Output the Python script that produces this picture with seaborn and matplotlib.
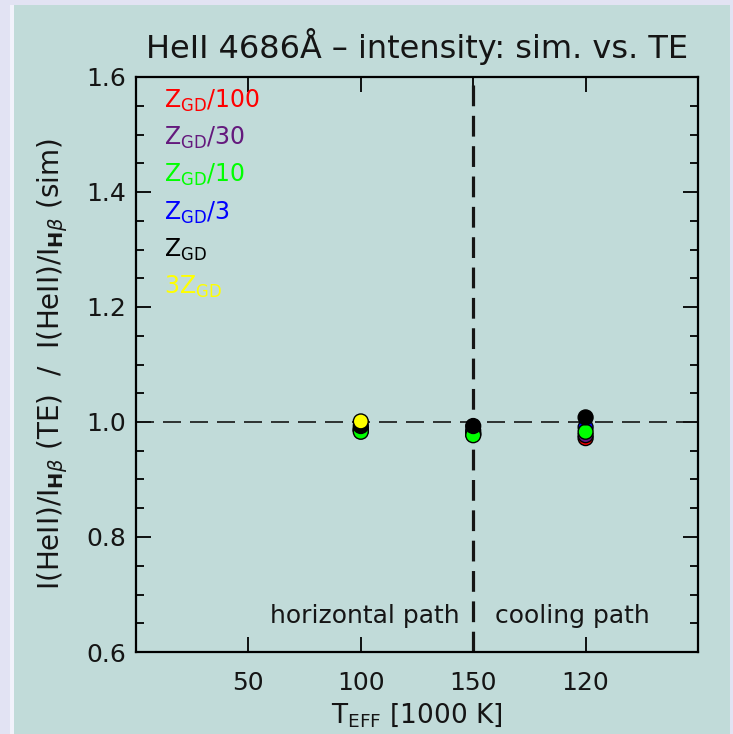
import numpy as np
import pandas as pd
import matplotlib
matplotlib.use("Agg")
import matplotlib.pyplot as plt
import seaborn as sns
from matplotlib.ticker import MultipleLocator, FixedLocator, FormatStrFormatter
from matplotlib.patches import Rectangle

# Axis categories: effective temperature labels along the path
tick_labels = ["50", "100", "150", "120"]
teff_points = ["100", "150", "120"]

# Model metallicities and their colours
models = [r"Z$_{\rm GD}$/100", r"Z$_{\rm GD}$/30", r"Z$_{\rm GD}$/10",
          r"Z$_{\rm GD}$/3", r"Z$_{\rm GD}$", r"3Z$_{\rm GD}$"]
model_colors = ["#ff0000", "#64197d", "#00ff00", "#0000ff", "#000000", "#ffff00"]

# Intensity ratio TE / simulation for each model at each temperature
ratio_z100 = [0.986, 0.979, 0.972]
ratio_z30 = [0.986, 0.980, 0.977]
ratio_z10 = [0.983, 0.977, 0.983]
ratio_z3 = [0.988, 0.985, 0.991]
ratio_z1 = [0.993, 0.993, 1.008]
ratio_3z = [1.001, np.nan, np.nan]

series = [ratio_z100, ratio_z30, ratio_z10, ratio_z3, ratio_z1, ratio_3z]
# drawing order of the models (later ones sit on top)
draw_order = [0, 1, 3, 2, 4, 5]

rows = []
for k in draw_order:
    for t, v in zip(teff_points, series[k]):
        rows.append({"model": models[k], "pos": tick_labels.index(t) + 1, "ratio": v})
df = pd.DataFrame(rows).dropna()

bg = "#c1dbd9"
ink = "#151515"
sns.set_theme(style="ticks")
plt.rcParams["font.family"] = ["DejaVu Sans"]
plt.rcParams["mathtext.fontset"] = "custom"
plt.rcParams["mathtext.rm"] = "DejaVu Sans"
plt.rcParams["mathtext.bf"] = "DejaVu Sans:bold"
plt.rcParams["mathtext.it"] = "DejaVu Sans:italic"

fig = plt.figure(figsize=(7.33, 7.34), dpi=100, facecolor=bg)
# light frame strips around the panel
fig.patches.append(Rectangle((0, 0), 14 / 733, 1, transform=fig.transFigure,
                             facecolor="#e2e3f3", edgecolor="none", zorder=0))
fig.patches.append(Rectangle((10 / 733, 0), 4 / 733, 1, transform=fig.transFigure,
                             facecolor="#f1f2fb", edgecolor="none", zorder=0))
fig.patches.append(Rectangle((0, 1 - 5 / 734), 1, 5 / 734, transform=fig.transFigure,
                             facecolor="#e2e3f3", edgecolor="none", zorder=0))
fig.patches.append(Rectangle((1 - 3 / 733, 0), 3 / 733, 1, transform=fig.transFigure,
                             facecolor="#e2e3f3", edgecolor="none", zorder=0))

ax = fig.add_axes([136 / 733, 1 - 652 / 734, 562 / 733, 575 / 734])
ax.set_facecolor(bg)

ax.axhline(1.0, color=ink, lw=1.2, ls=(0, (10.8, 5.4)), zorder=1)
ax.axvline(3, color=ink, lw=2.3, ls=(0, (6.5, 3.0)), zorder=1)

sns.scatterplot(data=df, x="pos", y="ratio", hue="model", hue_order=models,
                palette=dict(zip(models, model_colors)), s=115,
                edgecolor="black", linewidth=1.0, legend=False, ax=ax, zorder=3)

ax.set_xlim(0, 5)
ax.set_ylim(0.6, 1.6)
ax.xaxis.set_major_locator(FixedLocator([1, 2, 3, 4]))
ax.set_xticklabels(tick_labels)
ax.yaxis.set_major_locator(MultipleLocator(0.2))
ax.yaxis.set_minor_locator(MultipleLocator(0.05))
ax.yaxis.set_major_formatter(FormatStrFormatter("%.1f"))
ax.tick_params(axis="both", which="major", direction="in", top=True, right=True,
               length=11, width=1.3, labelsize=18, color="black", labelcolor=ink)
ax.tick_params(axis="x", which="major", pad=14)
ax.tick_params(axis="y", which="major", pad=7)
ax.tick_params(axis="y", which="minor", direction="in", left=True, right=True,
               length=6, width=1.3, color="black")
ax.tick_params(axis="x", which="minor", bottom=False, top=False)
for sp in ax.spines.values():
    sp.set_linewidth(1.6)
    sp.set_color("black")

ax.set_title("HeII 4686Å – intensity: sim. vs. TE", fontsize=23,
             color=ink, pad=14)
ax.set_xlabel(r"T$_{\rm EFF}$ [1000 K]", fontsize=19, color=ink, labelpad=4)
ax.set_ylabel(r"I(HeII)/I$_{\mathbf{H}\beta}$ (TE)  /  I(HeII)/I$_{\mathbf{H}\beta}$ (sim)",
              fontsize=20, color=ink, labelpad=12)

for i, (name, col) in enumerate(zip(models, model_colors)):
    ax.text(0.05, 0.958 - i * 0.0645, name, transform=ax.transAxes, color=col,
            fontsize=17, va="center", ha="left")

ax.text(2.04, 0.662, "horizontal path", fontsize=18, ha="center", va="center",
        color=ink)
ax.text(3.88, 0.662, "cooling path", fontsize=18, ha="center", va="center",
        color=ink)

fig.savefig("out.png", dpi=100, facecolor=bg)
